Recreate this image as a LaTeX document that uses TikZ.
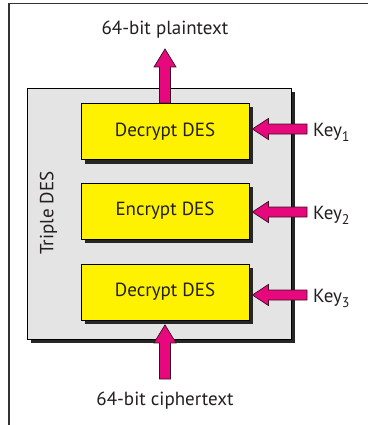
\documentclass[tikz,border=0pt]{standalone}
\usepackage{fontspec}
\setmainfont{PT Sans}
\usetikzlibrary{calc,shadows,backgrounds}
\definecolor{boxgray}{HTML}{E4E4E4}
\definecolor{shadowc}{HTML}{262626}
\definecolor{arrowpink}{HTML}{E8087E}
\definecolor{arrowedge}{HTML}{3A1020}
\definecolor{txt}{HTML}{231F20}
\definecolor{framec}{HTML}{333333}
\newcommand\pinkup[2]{%
  \filldraw[pinkarrow] ($(#1)+(-5.5,0)$) -- ($(#2)+(-5.5,18)$) -- ($(#2)+(-11,18)$) -- (#2)
    -- ($(#2)+(11,18)$) -- ($(#2)+(5.5,18)$) -- ($(#1)+(5.5,0)$) -- cycle;}
\newcommand\pinkleft[2]{%
  \filldraw[pinkarrow] ($(#1)+(0,-5)$) -- ($(#2)+(16,-5)$) -- ($(#2)+(16,-10.5)$) -- (#2)
    -- ($(#2)+(16,10.5)$) -- ($(#2)+(16,5)$) -- ($(#1)+(0,5)$) -- cycle;}
\begin{document}
\begin{tikzpicture}[x=1pt,y=-1pt,
  every node/.style={text=txt,font=\fontsize{19}{22}\selectfont},
  framestyle/.style={draw=framec,line width=1.1pt},
  graybox/.style={draw=black,line width=0.9pt,fill=boxgray,minimum width=264pt,minimum height=251pt},
  shadowfill/.style={fill=shadowc},
  desbox/.style={draw=black,line width=0.8pt,fill=yellow,minimum width=168pt,minimum height=56pt,inner sep=0pt,
    drop shadow={shadow xshift=4pt,shadow yshift=-4pt,fill=shadowc,opacity=1}},
  pinkarrow/.style={fill=arrowpink,draw=arrowedge,line width=0.7pt,line join=miter},
  lbl/.style={anchor=base,inner sep=0pt},
  keylbl/.style={anchor=base west,inner sep=0pt}]
\useasboundingbox (0,0) rectangle (368,425);
\draw[framestyle] (9,425) -- (9,3.5) -- (368,3.5);
\node[graybox] (tdes) at (159,213.5) {};
\begin{pgfonlayer}{background}
\fill[shadowfill] ($(tdes.south west)+(4,4)$) rectangle ($(tdes.north east)+(4,4)$);
\end{pgfonlayer}
\node[desbox] (d1) at (165,131.5) {Decrypt DES};
\node[desbox] (d2) at (165,211) {Encrypt DES};
\node[desbox] (d3) at (165,292) {Decrypt DES};
\node[rotate=90,inner sep=0pt] (tlabel) at (48.5,213) {Triple DES};
\node[lbl] (plain) at (165,35) {64-bit plaintext};
\node[lbl] (cipher) at (165,405) {64-bit ciphertext};
\node[keylbl] (k1) at (313,136) {Key\raisebox{-5pt}{\fontsize{14}{14}\selectfont 1}};
\node[keylbl] (k2) at (313,219) {Key\raisebox{-5pt}{\fontsize{14}{14}\selectfont 2}};
\node[keylbl] (k3) at (313,302) {Key\raisebox{-5pt}{\fontsize{14}{14}\selectfont 3}};
\coordinate (ptip) at (165,49);
\coordinate (ctail) at (165,379);
\coordinate (ctip) at ($(d3.south)+(0,4.5)$);
\coordinate (k1t) at (307,129);
\coordinate (k2t) at (307,212);
\coordinate (k3t) at (307,295);
\coordinate (k1h) at ($(d1.east |- k1t)+(3,0)$);
\coordinate (k2h) at ($(d2.east |- k2t)+(3,0)$);
\coordinate (k3h) at ($(d3.east |- k3t)+(3,0)$);
\pinkup{d1.north}{ptip}
\pinkup{ctail}{ctip}
\pinkleft{k1t}{k1h}
\pinkleft{k2t}{k2h}
\pinkleft{k3t}{k3h}
\end{tikzpicture}
\end{document}
